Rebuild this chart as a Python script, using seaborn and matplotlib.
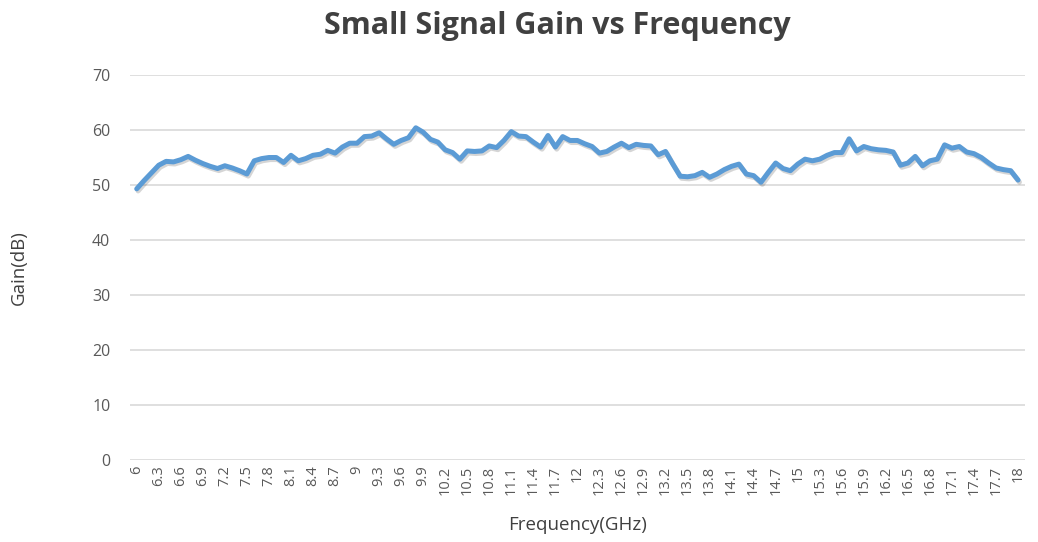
import numpy as np
import pandas as pd
import matplotlib
matplotlib.use("Agg")
import matplotlib.pyplot as plt
import matplotlib.patheffects as pe
import seaborn as sns

# frequency points, 0.1 GHz step from 6 to 18
freq_ghz = np.round(np.arange(60, 181) / 10.0, 1)

gain_db = [
    49.3, 50.8, 52.2, 53.6, 54.3, 54.2, 54.6, 55.2, 54.5, 53.9,
    53.4, 53.0, 53.5, 53.1, 52.6, 52.0, 54.4, 54.8, 55.0, 55.0,
    54.1, 55.4, 54.4, 54.8, 55.4, 55.6, 56.3, 55.8, 56.9, 57.6,
    57.6, 58.8, 58.9, 59.5, 58.4, 57.4, 58.1, 58.6, 60.4, 59.6,
    58.3, 57.8, 56.4, 55.9, 54.7, 56.2, 56.1, 56.2, 57.1, 56.8,
    58.1, 59.7, 58.9, 58.8, 57.8, 56.9, 59.0, 56.9, 58.8, 58.1,
    58.1, 57.5, 57.0, 55.8, 56.1, 56.9, 57.6, 56.8, 57.4, 57.2,
    57.1, 55.5, 56.1, 53.8, 51.6, 51.5, 51.7, 52.3, 51.4, 52.0,
    52.8, 53.4, 53.8, 52.0, 51.7, 50.5, 52.3, 54.0, 53.0, 52.6,
    53.8, 54.7, 54.4, 54.7, 55.4, 55.9, 55.9, 58.4, 56.2, 57.0,
    56.6, 56.4, 56.3, 56.0, 53.6, 54.0, 55.2, 53.5, 54.4, 54.7,
    57.3, 56.7, 57.0, 56.0, 55.7, 55.0, 54.0, 53.1, 52.8, 52.6,
    50.9,
]

tick_freqs = freq_ghz[::3]
tick_labels = [f"{f:g}" for f in tick_freqs]
y_ticks = [0, 10, 20, 30, 40, 50, 60, 70]

df = pd.DataFrame({"freq": freq_ghz, "gain": gain_db})

sns.set_theme(style="white")
plt.rcParams["font.family"] = ["Open Sans", "DejaVu Sans"]

fig = plt.figure(figsize=(10.38, 5.42), dpi=100)
ax = fig.add_axes([0.125, 0.1513, 0.8625, 0.7103])

ax.grid(axis="y", color="#d9d9d9", linewidth=1.2)
ax.set_axisbelow(True)

sns.lineplot(data=df, x="freq", y="gain", ax=ax, color="#5b9bd5",
             linewidth=3.6, solid_joinstyle="round", solid_capstyle="round",
             path_effects=[pe.SimpleLineShadow(offset=(1, -1.5), alpha=0.18),
                           pe.Normal()])

ax.set_xlim(5.905, 18.095)
ax.set_ylim(0, 70)
ax.set_yticks(y_ticks)
ax.set_xticks(tick_freqs)
ax.set_xticklabels(tick_labels, rotation=90, fontsize=10.5, color="#595959")
ax.tick_params(axis="y", labelsize=11.5, labelcolor="#595959", pad=14, length=0)
ax.tick_params(axis="x", length=0, pad=4)

for s in ax.spines.values():
    s.set_visible(False)

ax.set_xlabel("Frequency(GHz)", fontsize=13.5, color="#404040", labelpad=15)
ax.set_ylabel("Gain(dB)", fontsize=13.5, color="#404040", labelpad=46)

fig.suptitle("Small Signal Gain vs Frequency", x=0.537, y=0.98,
             fontsize=22, fontweight="bold", color="#404040")

fig.savefig("out.png", dpi=100)
